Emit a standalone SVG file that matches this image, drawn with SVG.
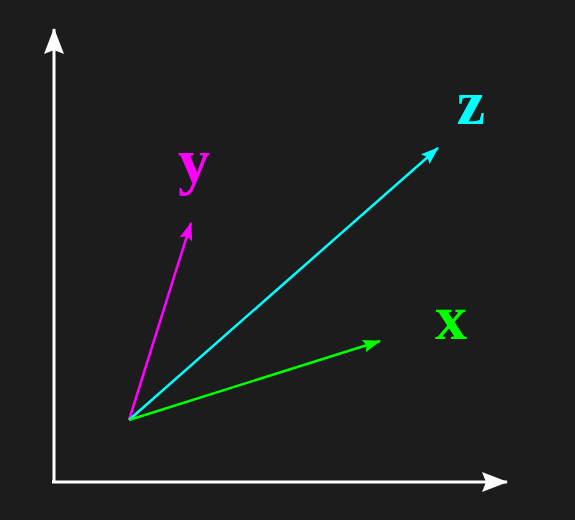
<svg xmlns="http://www.w3.org/2000/svg" width="575" height="520" viewBox="0 0 575 520">
<style>
.axis{stroke:#ffffff;stroke-width:3;fill:none}
.vec{stroke-width:2.5;fill:none}
.lbl{font-family:"Liberation Serif","DejaVu Serif",serif;font-weight:bold;text-anchor:middle}
</style>
<defs>
<marker id="aw" markerUnits="userSpaceOnUse" viewBox="-26 -11 28 22" refX="0" refY="0" markerWidth="28" markerHeight="22" orient="auto"><path d="M1,0 L-25,-10 L-21,0 L-25,10 Z" fill="#ffffff"/></marker>
<marker id="am" markerUnits="userSpaceOnUse" viewBox="-19 -8 21 16" refX="0" refY="0" markerWidth="21" markerHeight="16" orient="auto"><path d="M1,0 L-17,-6.5 L-14,0 L-17,6.5 Z" fill="#ff00ff"/></marker>
<marker id="ac" markerUnits="userSpaceOnUse" viewBox="-19 -8 21 16" refX="0" refY="0" markerWidth="21" markerHeight="16" orient="auto"><path d="M1,0 L-17,-6.5 L-14,0 L-17,6.5 Z" fill="#00ffff"/></marker>
<marker id="ag" markerUnits="userSpaceOnUse" viewBox="-19 -8 21 16" refX="0" refY="0" markerWidth="21" markerHeight="16" orient="auto"><path d="M1,0 L-17,-6.5 L-14,0 L-17,6.5 Z" fill="#00ff00"/></marker>
</defs>
<rect width="575" height="520" fill="#1c1c1c"/>
<g id="connectors">
<line class="axis" x1="54" y1="483" x2="54" y2="29" marker-end="url(#aw)"/>
<line class="axis" x1="52" y1="482" x2="507" y2="482" marker-end="url(#aw)"/>
<line class="vec" stroke="#ff00ff" x1="129" y1="420" x2="191" y2="223" marker-end="url(#am)"/>
<line class="vec" stroke="#00ffff" x1="129" y1="420" x2="438" y2="148" marker-end="url(#ac)"/>
<line class="vec" stroke="#00ff00" x1="129" y1="420" x2="380" y2="341" marker-end="url(#ag)"/>
</g>
<g id="label-y"><text class="lbl" x="194" y="182" font-size="64" fill="#ff00ff">y</text></g>
<g id="label-z"><text class="lbl" x="471" y="124" font-size="64" fill="#00ffff">z</text></g>
<g id="label-x"><text class="lbl" x="451" y="339" font-size="64" fill="#00ff00">x</text></g>
</svg>
